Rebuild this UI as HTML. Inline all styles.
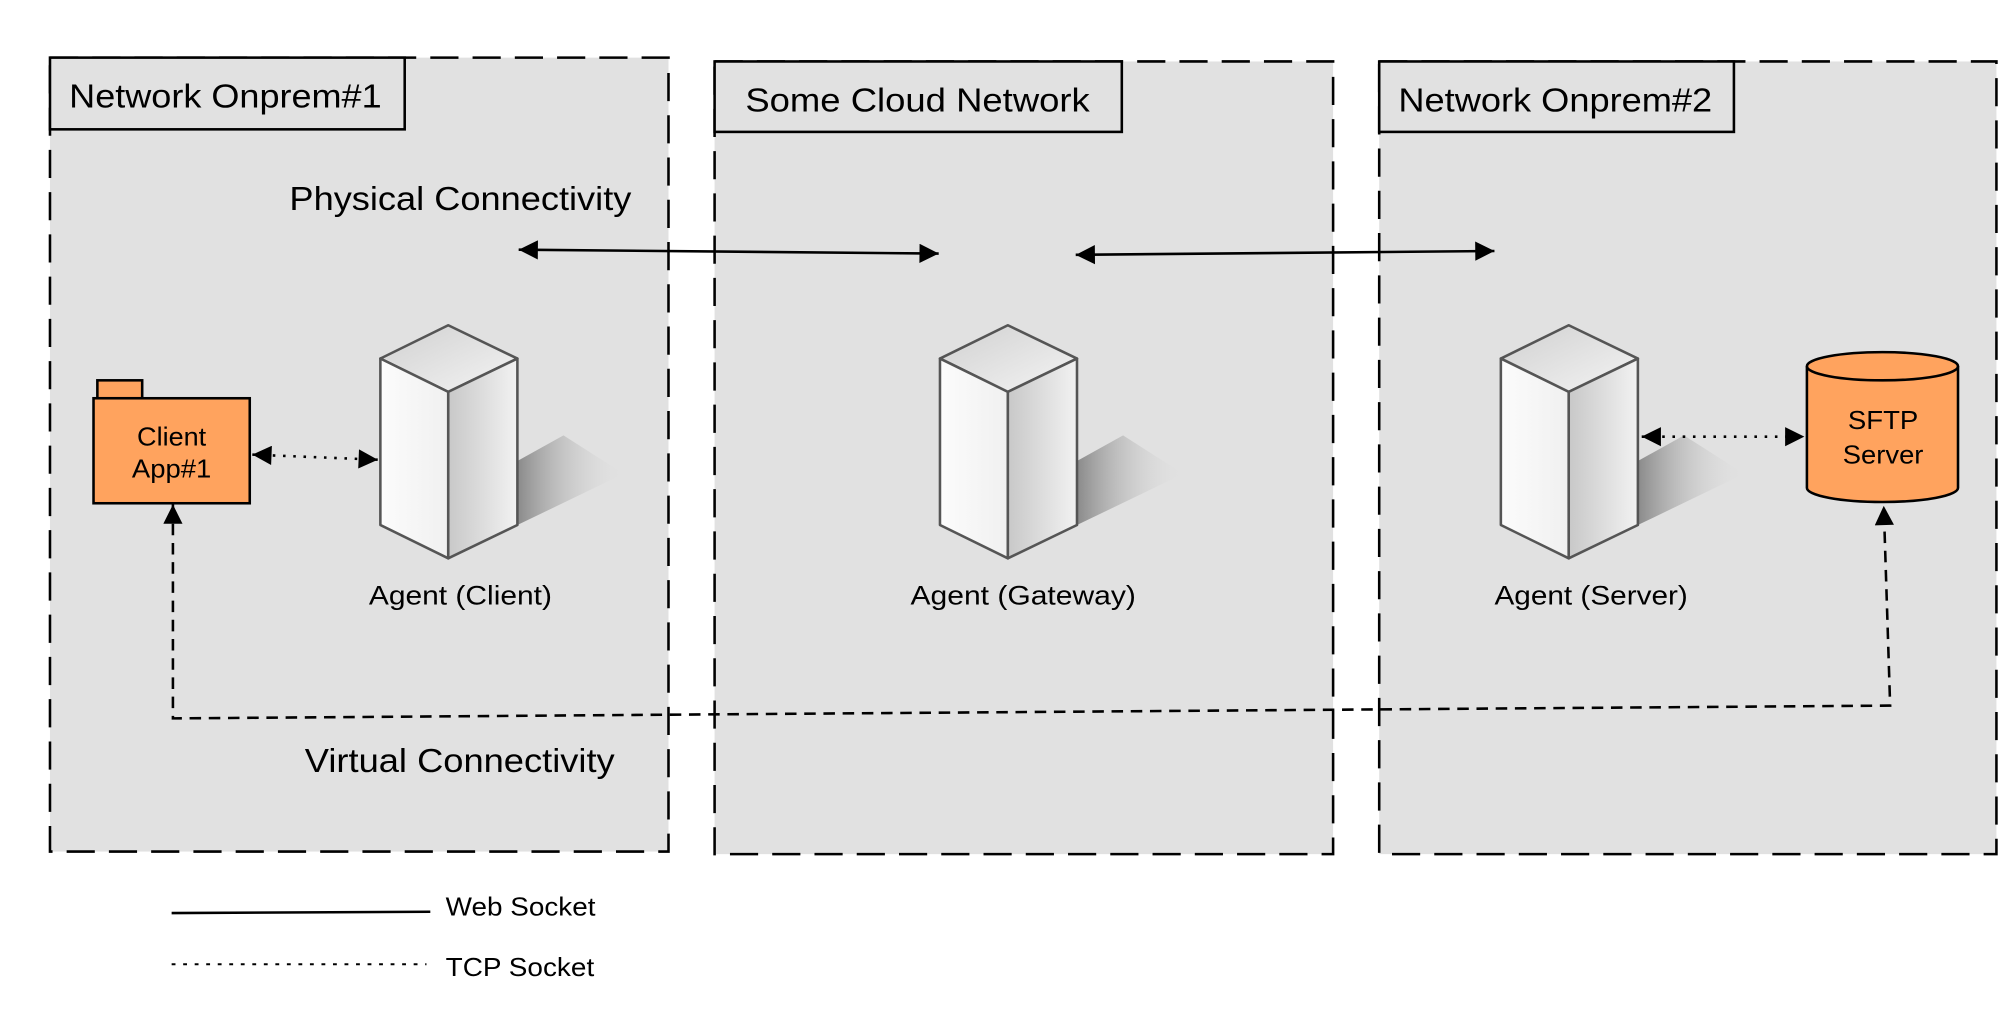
<!DOCTYPE html>
<html><head><meta charset="utf-8"><style>
html,body{margin:0;padding:0;background:#fff;}
svg{display:block;}
text{font-family:"Liberation Sans",Arial,sans-serif;fill:#000;}
</style></head><body>
<svg width="2008" height="1011" viewBox="0 0 1568 789.5" xmlns="http://www.w3.org/2000/svg">
<defs>
<marker id="ahB" viewBox="0 0 10 10" refX="10" refY="5" markerWidth="18" markerHeight="15" markerUnits="userSpaceOnUse" orient="auto-start-reverse"><path d="M0,0 L10,5 L0,10 z" fill="#000"/></marker>
<linearGradient id="sh" x1="0" y1="0" x2="1" y2="0"><stop offset="0" stop-color="#8a8a8a"/><stop offset="1" stop-color="#e0e0e0" stop-opacity="0"/></linearGradient>
<linearGradient id="topg" x1="0" y1="0" x2="1" y2="1"><stop offset="0" stop-color="#d0d0d0"/><stop offset="1" stop-color="#f4f4f4"/></linearGradient>
<linearGradient id="leftg" x1="0" y1="0" x2="1" y2="0"><stop offset="0" stop-color="#fcfcfc"/><stop offset="1" stop-color="#f0f0f0"/></linearGradient>
<linearGradient id="rightg" x1="0" y1="0" x2="1" y2="0"><stop offset="0" stop-color="#c8c8c8"/><stop offset="1" stop-color="#f2f2f2"/></linearGradient>
<g id="srv">
<polygon points="54,106 90,86 137,116 54,156" fill="url(#sh)"/>
<polygon points="0,0 -53,26 0,52 54,26" fill="url(#topg)" stroke="#555" stroke-width="2" stroke-linejoin="round"/>
<polygon points="-53,26 0,52 0,182 -53,156" fill="url(#leftg)" stroke="#555" stroke-width="2" stroke-linejoin="round"/>
<polygon points="0,52 54,26 54,156 0,182" fill="url(#rightg)" stroke="#555" stroke-width="2" stroke-linejoin="round"/>
</g>
</defs>
<g fill="#e1e1e1" stroke="#000" stroke-width="2" stroke-dasharray="22,11">
<rect x="39" y="45" width="483" height="620"/>
<rect x="558" y="48" width="483" height="619"/>
<rect x="1077" y="48" width="482" height="619"/>
</g>
<g fill="#e1e1e1" stroke="#000" stroke-width="2">
<rect x="39" y="45" width="277" height="56"/>
<rect x="558" y="48" width="318" height="55"/>
<rect x="1077" y="48" width="277" height="55"/>
</g>
<text x="54" y="84" font-size="26" textLength="244" lengthAdjust="spacingAndGlyphs">Network Onprem#1</text>
<text x="582" y="87" font-size="26" textLength="269" lengthAdjust="spacingAndGlyphs">Some Cloud Network</text>
<text x="1092" y="87" font-size="26" textLength="245" lengthAdjust="spacingAndGlyphs">Network Onprem#2</text>
<text x="226" y="164" font-size="26" textLength="267" lengthAdjust="spacingAndGlyphs">Physical Connectivity</text>
<text x="238" y="603" font-size="26" textLength="242" lengthAdjust="spacingAndGlyphs">Virtual Connectivity</text>
<line x1="405" y1="195" x2="733" y2="198" stroke="#000" stroke-width="2" marker-start="url(#ahB)" marker-end="url(#ahB)"/>
<line x1="840" y1="199" x2="1167" y2="196" stroke="#000" stroke-width="2" marker-start="url(#ahB)" marker-end="url(#ahB)"/>
<use href="#srv" x="350" y="254"/>
<use href="#srv" x="787" y="254"/>
<use href="#srv" x="1225" y="254"/>
<text x="288" y="472" font-size="21" textLength="143" lengthAdjust="spacingAndGlyphs">Agent (Client)</text>
<text x="711" y="472" font-size="21" textLength="176" lengthAdjust="spacingAndGlyphs">Agent (Gateway)</text>
<text x="1167" y="472" font-size="21" textLength="151" lengthAdjust="spacingAndGlyphs">Agent (Server)</text>
<rect x="76" y="297" width="35" height="14" fill="#ffa35e" stroke="#000" stroke-width="2"/>
<rect x="73" y="311" width="122" height="82" fill="#ffa35e" stroke="#000" stroke-width="2"/>
<text x="107" y="348" font-size="20" textLength="54" lengthAdjust="spacingAndGlyphs">Client</text>
<text x="103" y="373" font-size="20" textLength="62" lengthAdjust="spacingAndGlyphs">App#1</text>
<line x1="197" y1="355" x2="295" y2="359" stroke="#000" stroke-width="2" stroke-dasharray="2,6" marker-start="url(#ahB)" marker-end="url(#ahB)"/>
<path d="M1411,286 L1411,381 A59,11 0 0 0 1529,381 L1529,286 A59,11 0 0 0 1411,286 Z" fill="#ffa35e" stroke="#000" stroke-width="2"/>
<path d="M1411,286 A59,11 0 0 0 1529,286" fill="none" stroke="#000" stroke-width="2"/>
<text x="1443" y="335" font-size="20" textLength="55" lengthAdjust="spacingAndGlyphs">SFTP</text>
<text x="1439" y="362" font-size="20" textLength="63" lengthAdjust="spacingAndGlyphs">Server</text>
<line x1="1282" y1="341" x2="1409" y2="341" stroke="#000" stroke-width="2" stroke-dasharray="2,6" marker-start="url(#ahB)" marker-end="url(#ahB)"/>
<path d="M135,394 L135,561 L1476,551 L1471,395" fill="none" stroke="#000" stroke-width="2" stroke-dasharray="9,6" marker-start="url(#ahB)" marker-end="url(#ahB)"/>
<line x1="134" y1="713" x2="336" y2="712" stroke="#000" stroke-width="2"/>
<text x="348" y="715" font-size="20" textLength="117" lengthAdjust="spacingAndGlyphs">Web Socket</text>
<line x1="134" y1="753" x2="333" y2="753" stroke="#000" stroke-width="1.5" stroke-dasharray="3,6"/>
<text x="348" y="762" font-size="20" textLength="116" lengthAdjust="spacingAndGlyphs">TCP Socket</text>
</svg>
</body></html>
